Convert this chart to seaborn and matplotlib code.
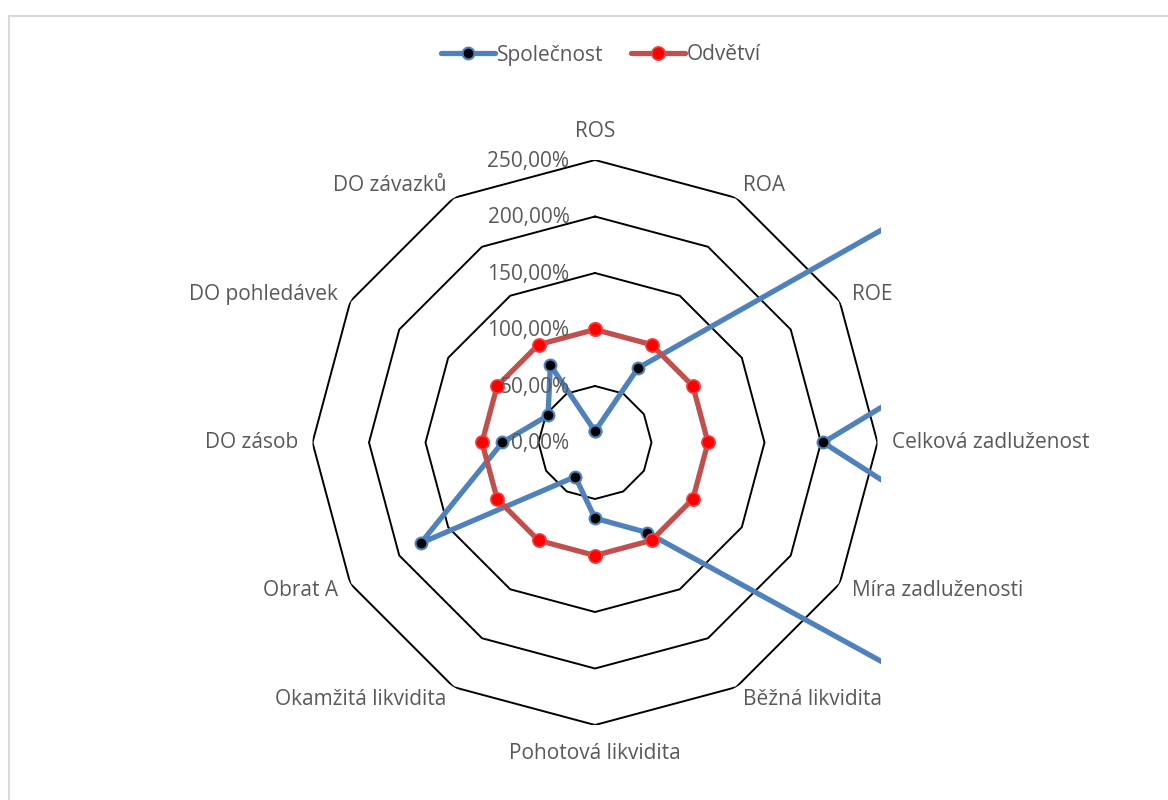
import numpy as np
import pandas as pd
import matplotlib
matplotlib.use("Agg")
import matplotlib.pyplot as plt
import seaborn as sns
from matplotlib.lines import Line2D
from matplotlib.patches import Rectangle
from matplotlib.transforms import Bbox, TransformedBbox

# ---------------- data ----------------
categories = ["ROS", "ROA", "ROE", "Celková zadluženost", "Míra zadluženosti",
              "Běžná likvidita", "Pohotová likvidita", "Okamžitá likvidita",
              "Obrat A", "DO zásob", "DO pohledávek", "DO závazků"]
spolecnost = [10, 76, 5000, 202, 2300, 92, 67, 35, 178, 82, 48, 79]
odvetvi = [100, 100, 100, 100, 100, 100, 100, 100, 100, 100, 100, 100]
series_names = ["Společnost", "Odvětví"]
r_ticks = [0, 50, 100, 150, 200, 250]
r_tick_labels = ["0,00%", "50,00%", "100,00%", "150,00%", "200,00%", "250,00%"]

# ---------------- style ----------------
sns.set_theme(style="white")
plt.rcParams["font.family"] = ["Open Sans", "DejaVu Sans"]
TXT = "#595959"
BLUE = "#4F81BD"
RED_LINE = "#C0504D"
FS = 15

W, H = 1168, 800
fig = plt.figure(figsize=(W / 100, H / 100), dpi=100)
fig.patch.set_facecolor("white")

# chart-area border (light grey)
fig.add_artist(Rectangle((8.5 / W, -0.1), 1.2, 1.1 - 16.5 / H,
                         transform=fig.transFigure, fill=False,
                         edgecolor="#D9D9D9", linewidth=1.5))

cx, cy, R = 595, 442.5, 282.5
ax = fig.add_axes([(cx - R) / W, (H - cy - R) / H, 2 * R / W, 2 * R / H],
                  projection="polar")
ax.set_theta_zero_location("N")
ax.set_theta_direction(-1)
ax.set_facecolor("none")

n = len(categories)
theta = np.linspace(0, 2 * np.pi, n, endpoint=False)
theta_closed = np.append(theta, theta[0])

# polygon gridlines
for rv in r_ticks[1:]:
    ax.plot(theta_closed, [rv] * (n + 1), color="black", linewidth=1.4, zorder=1)

# data series via seaborn
df_s = pd.DataFrame({"theta": theta_closed, "value": spolecnost + [spolecnost[0]]})
df_o = pd.DataFrame({"theta": theta_closed, "value": odvetvi + [odvetvi[0]]})

clipbox = TransformedBbox(Bbox.from_extents(20 / W, 10 / H, 881 / W, 1 - 20 / H),
                          fig.transFigure)

n_before = len(ax.lines)
sns.lineplot(data=df_s, x="theta", y="value", sort=False, estimator=None, ax=ax,
             color=BLUE, linewidth=3.8, marker="o", markersize=8.5,
             markerfacecolor="black", markeredgecolor=BLUE, markeredgewidth=1.5,
             zorder=3)
sns.lineplot(data=df_o, x="theta", y="value", sort=False, estimator=None, ax=ax,
             color=RED_LINE, linewidth=3.8, marker="o", markersize=9.5,
             markerfacecolor="#FF0000", markeredgecolor="#F04040", markeredgewidth=1.2,
             zorder=4)
for ln in ax.lines[n_before:]:
    ln.set_clip_path(None)
    ln.set_clip_box(clipbox)
    ln.set_clip_on(True)

ax.set_ylim(0, 250)
ax.set_xlabel("")
ax.set_ylabel("")
ax.set_xticks([])
ax.set_yticks([])
ax.grid(False)
ax.spines["polar"].set_visible(False)

# radial tick labels
px = 0.72  # pixels -> points at 100 dpi
for rv, lab in zip(r_ticks, r_tick_labels):
    ax.annotate(lab, xy=(0, rv), xytext=(-25.5 * px, -1.5 * px),
                textcoords="offset points", ha="right", va="center",
                fontsize=FS, color=TXT, zorder=5, annotation_clip=False)

# category labels
for th, lab in zip(theta, categories):
    s, c = np.sin(th), np.cos(th)
    if abs(s) < 0.01:
        ha = "center"
        k = 18
        va = "bottom" if c > 0 else "top"
    else:
        ha = "left" if s > 0 else "right"
        va = "center"
        k = 14
    ax.annotate(lab, xy=(th, 250), xytext=(k * s * px, k * c * px),
                textcoords="offset points", ha=ha, va=va,
                fontsize=FS, color=TXT, annotation_clip=False)

# legend
handles = [
    Line2D([], [], color=BLUE, linewidth=3.8, marker="o", markersize=8.5,
           markerfacecolor="black", markeredgecolor=BLUE, markeredgewidth=1.5),
    Line2D([], [], color=RED_LINE, linewidth=3.8, marker="o", markersize=9.5,
           markerfacecolor="#FF0000", markeredgecolor="#F04040", markeredgewidth=1.2),
]
leg = fig.legend(handles, series_names, loc="center", ncol=2,
                 bbox_to_anchor=(601 / W, 1 - 55 / H), frameon=False,
                 fontsize=FS, handlelength=2.6, handletextpad=0.1,
                 columnspacing=1.3)
for t in leg.get_texts():
    t.set_color(TXT)

fig.savefig("out.png", dpi=100, facecolor="white")
